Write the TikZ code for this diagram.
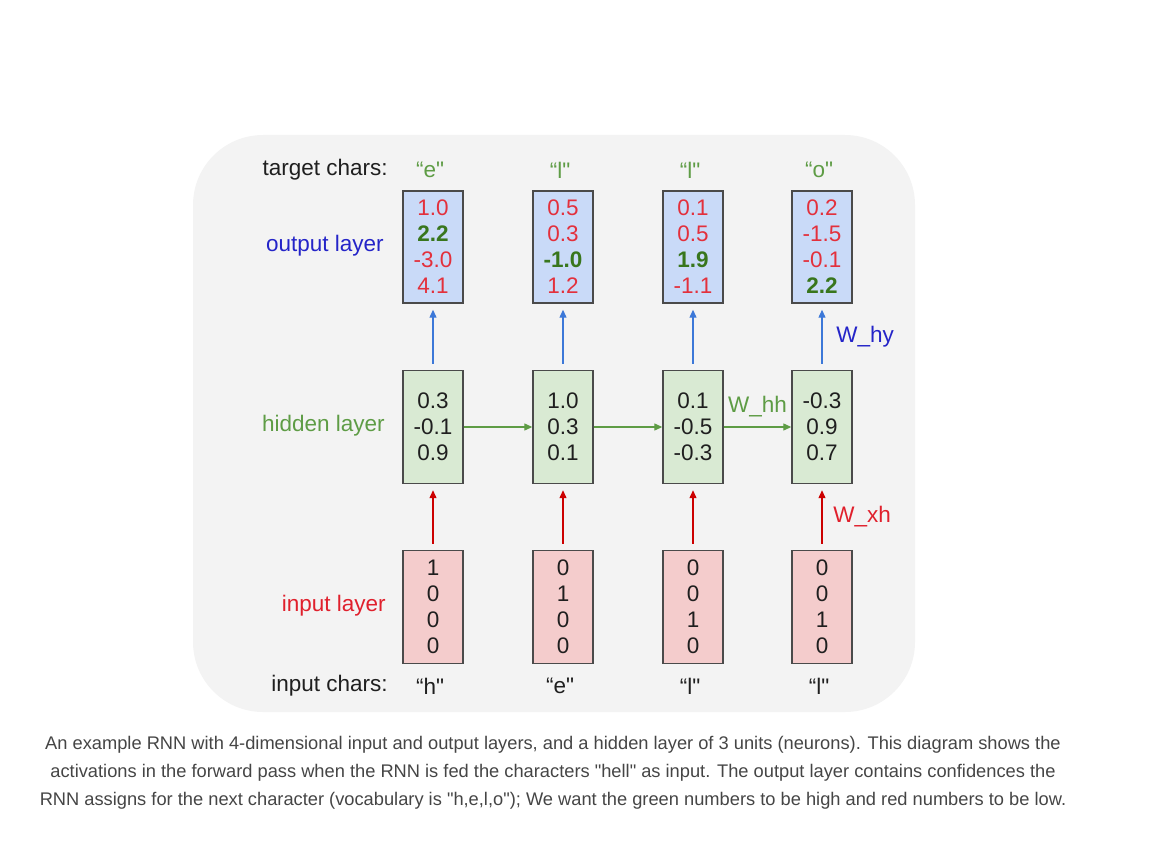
\documentclass[tikz,border=0pt]{standalone}
\usepackage{fontspec}
\setmainfont{Liberation Sans}
\usetikzlibrary{arrows.meta}

\definecolor{bgGray}{HTML}{F3F3F3}
\definecolor{boxBorder}{HTML}{4A4A4A}
\definecolor{outFill}{HTML}{C9DAF8}
\definecolor{hidFill}{HTML}{D9EAD3}
\definecolor{inFill}{HTML}{F4CCCC}
\definecolor{valRed}{HTML}{E3303C}
\definecolor{valGreen}{HTML}{38761D}
\definecolor{layerBlue}{HTML}{2424C8}
\definecolor{layerGreen}{HTML}{5E9C45}
\definecolor{layerRed}{HTML}{E0202C}
\definecolor{arrowBlue}{HTML}{3C78D8}
\definecolor{arrowRed}{HTML}{CC0000}
\definecolor{arrowGreen}{HTML}{5E9C45}
\definecolor{captionGray}{HTML}{454545}

\newcommand{\diagfont}{\fontsize{12.8}{14.8}\selectfont}
\newcommand{\lowval}[1]{\textcolor{valRed}{#1}}
\newcommand{\highval}[1]{\textcolor{valGreen}{\bfseries #1}}

\begin{document}
\begin{tikzpicture}[
        box/.style={draw=boxBorder, line width=0.8pt, minimum width=1.2cm, inner sep=0pt, align=center, font=\diagfont, text=black!88},
        outbox/.style={box, fill=outFill, minimum height=2.24cm},
        hidbox/.style={box, fill=hidFill, minimum height=2.26cm},
        inbox/.style={box, fill=inFill, minimum height=2.26cm},
        rowlabel/.style={anchor=east, font=\diagfont, inner sep=0pt},
        charlabel/.style={font=\diagfont, inner sep=0pt, text=black!88},
        wlabel/.style={font=\diagfont, inner sep=0pt},
        flow/.style={line width=0.7pt, arrows={-Triangle[length=1.6mm, width=1.4mm]}}
    ]
        % Page and background:
        \useasboundingbox (0, 0) rectangle (23.04, 17.16);
        \fill[bgGray, rounded corners=1.4cm] (3.86, 2.92) rectangle (18.3, 14.46);

        % Row labels:
        \node[rowlabel, text=black!88] (tgtlabel) at (7.76, 13.76) {target chars:};
        \node[rowlabel, text=layerBlue] (outlabel) at (7.68, 12.24) {output layer};
        \node[rowlabel, text=layerGreen] (hidlabel) at (7.70, 8.64) {hidden layer};
        \node[rowlabel, text=layerRed] (inlabel) at (7.72, 5.04) {input layer};
        \node[rowlabel, text=black!88] (inchlabel) at (7.76, 3.44) {input chars:};

        % Columns (one per time step):
        \foreach \i/\x/\tc/\ic/\outv/\hidv/\inv in {
            1/8.66/e/h/{\lowval{1.0}\\\highval{2.2}\\\lowval{-3.0}\\\lowval{4.1}}/{0.3\\-0.1\\0.9}/{1\\0\\0\\0},
            2/11.26/l/e/{\lowval{0.5}\\\lowval{0.3}\\\highval{-1.0}\\\lowval{1.2}}/{1.0\\0.3\\0.1}/{0\\1\\0\\0},
            3/13.86/l/l/{\lowval{0.1}\\\lowval{0.5}\\\highval{1.9}\\\lowval{-1.1}}/{0.1\\-0.5\\-0.3}/{0\\0\\1\\0},
            4/16.44/o/l/{\lowval{0.2}\\\lowval{-1.5}\\\lowval{-0.1}\\\highval{2.2}}/{-0.3\\0.9\\0.7}/{0\\0\\1\\0}} {
            \node[outbox] (out\i) at (\x, 12.22) {\outv};
            \node[hidbox] (hid\i) at (\x, 8.62) {\hidv};
            \node[inbox] (in\i) at (\x, 5.02) {\inv};
            \node[charlabel, text=layerGreen] (tgt\i) at (\x - 0.06, 13.76) {“\tc\textquotedbl};
            \node[charlabel] (inch\i) at (\x - 0.06, 3.44) {“\ic\textquotedbl};
            \draw[flow, arrowBlue, shorten <=0.12cm, shorten >=0.12cm] (hid\i) -- (out\i);
            \draw[flow, arrowRed, shorten <=0.12cm, shorten >=0.12cm] (in\i) -- (hid\i);
        }

        % Recurrent connections:
        \foreach \i/\j in {1/2, 2/3, 3/4}
            \draw[flow, arrowGreen] (hid\i) -- (hid\j);

        % Weight labels:
        \path (hid4) -- (out4) node[wlabel, midway, right=0.28cm, text=layerBlue] (why) {W\_hy};
        \path (hid3) -- (hid4) node[wlabel, midway, above=0.2cm, text=layerGreen] (whh) {W\_hh};
        \path (in4) -- (hid4) node[wlabel, midway, right=0.22cm, text=layerRed] (wxh) {W\_xh};

        % Caption:
        \node[align=center, text=captionGray, font=\fontsize{10.4}{15.9}\selectfont] (caption) at (11.06, 1.7)
            {An example RNN with 4-dimensional input and output layers, and a hidden layer of 3 units (neurons). This diagram shows the\\
             activations in the forward pass when the RNN is fed the characters \textquotedbl hell\textquotedbl{} as input. The output layer contains confidences the\\
             RNN assigns for the next character (vocabulary is \textquotedbl h,e,l,o\textquotedbl); We want the green numbers to be high and red numbers to be low.};
    \end{tikzpicture}
\end{document}
